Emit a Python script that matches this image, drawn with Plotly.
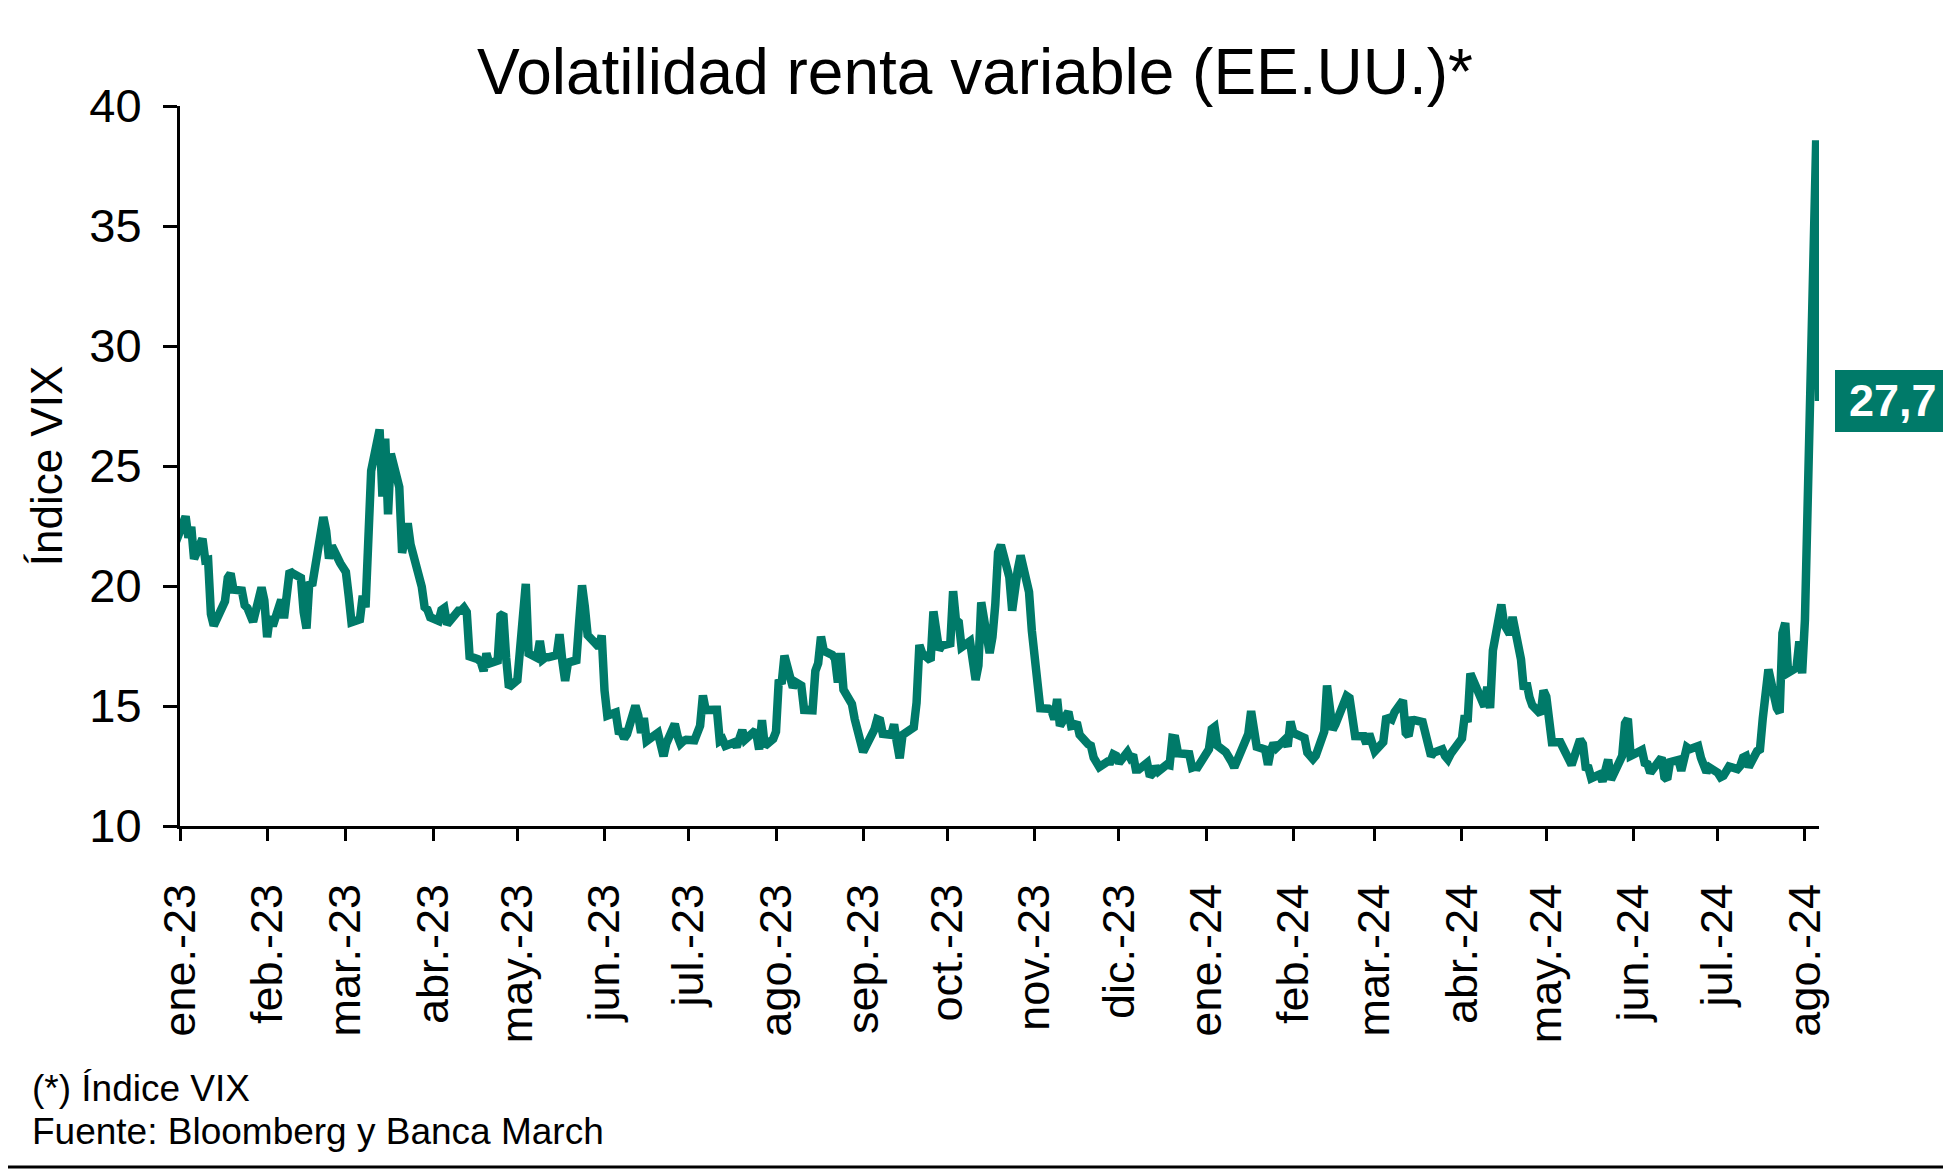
import pandas as pd
import plotly.graph_objects as go

# ---------------- DATA ----------------
holidays = ["2023-01-02", "2023-01-16", "2023-02-20", "2023-04-07", "2023-05-29",
            "2023-06-19", "2023-07-04", "2023-09-04", "2023-11-23", "2023-12-25",
            "2024-01-01", "2024-01-15", "2024-02-19", "2024-03-29", "2024-05-27",
            "2024-06-19", "2024-07-04"]

start_date = "2022-12-30"
start_value = 21.67

vix_2023_01 = [22.90, 22.01, 22.46, 21.13, 21.97, 21.07, 21.09, 18.83, 18.35, 19.36,
               20.34, 20.52, 19.85, 19.81, 19.20, 19.08, 18.73, 18.51, 19.94, 19.40]
vix_2023_02 = [17.87, 18.73, 18.33, 19.43, 18.66, 19.63, 20.63, 20.53, 20.34, 18.91,
               18.23, 20.17, 20.02, 22.87, 22.29, 21.14, 21.67, 20.95, 20.70]
vix_2023_03 = [20.58, 19.59, 18.49, 18.61, 19.59, 19.11, 22.61, 24.80, 26.52, 23.73,
               26.14, 22.99, 25.51, 24.12, 21.38, 22.26, 22.61, 21.74, 20.60, 19.97,
               19.12, 19.02, 18.70]
vix_2023_04 = [18.55, 19.00, 19.08, 18.40, 18.97, 18.97, 19.09, 18.91, 17.07, 16.95,
               16.83, 16.46, 17.19, 16.77, 16.89, 18.76, 18.84, 17.03, 15.78]
vix_2023_05 = [16.08, 17.78, 18.34, 20.09, 17.19, 17.01, 17.71, 16.94, 17.03, 17.03,
               17.12, 17.99, 16.87, 16.05, 16.81, 16.91, 18.53, 20.03, 19.14, 17.95,
               17.46, 17.94]
vix_2023_06 = [15.65, 14.60, 14.73, 13.96, 13.94, 13.65, 13.83, 15.01, 14.61, 13.88,
               14.50, 13.54, 13.88, 13.20, 12.91, 13.44, 14.25, 13.74, 13.43, 13.54,
               13.59]
vix_2023_07 = [13.57, 14.18, 15.44, 14.83, 14.84, 14.84, 13.54, 13.61, 13.34, 13.48,
               13.30, 13.76, 13.99, 13.60, 13.91, 13.86, 13.19, 14.41, 13.33, 13.63]
vix_2023_08 = [13.93, 16.09, 15.92, 17.10, 15.77, 15.99, 15.96, 15.85, 14.84, 14.82,
               16.46, 16.78, 17.89, 17.30, 17.13, 16.97, 15.98, 17.20, 15.68, 15.08,
               14.45, 13.88, 13.57]
vix_2023_09 = [13.09, 14.02, 14.45, 14.40, 13.84, 13.80, 14.23, 13.48, 12.82, 13.79,
               14.00, 14.11, 15.14, 17.54, 17.20, 16.90, 18.94, 18.22, 17.34, 17.52]
vix_2023_10 = [17.61, 19.78, 18.58, 18.49, 17.45, 17.70, 17.03, 16.09, 16.69, 19.32,
               17.21, 17.88, 19.22, 21.40, 21.71, 20.37, 18.97, 20.19, 20.68, 21.27,
               19.75, 18.14]
vix_2023_11 = [16.87, 15.66, 14.91, 14.89, 14.81, 14.45, 15.29, 14.17, 14.76, 14.16,
               14.18, 14.32, 13.80, 13.41, 13.35, 12.85, 12.46, 12.69, 12.69, 12.98,
               12.92]
vix_2023_12 = [12.63, 13.08, 12.85, 12.97, 12.35, 12.35, 12.63, 12.07, 12.19, 12.48,
               12.28, 12.56, 12.53, 13.67, 13.65, 13.03, 12.99, 12.43, 12.47, 12.45]
vix_2024_01 = [13.20, 14.04, 14.13, 13.35, 13.08, 12.76, 12.69, 12.44, 12.70, 13.84,
               14.79, 14.13, 13.30, 13.19, 12.55, 13.14, 13.45, 13.26, 13.60, 13.31,
               14.35]
vix_2024_02 = [13.88, 13.85, 13.67, 13.06, 12.83, 12.79, 12.93, 13.93, 15.85, 14.38,
               14.01, 14.24, 15.42, 15.34, 14.54, 13.75, 13.74, 13.43, 13.84, 13.40]
vix_2024_03 = [13.11, 13.49, 14.46, 14.50, 14.44, 14.74, 15.23, 13.88, 13.75, 14.40,
               14.41, 14.33, 13.82, 13.04, 12.92, 13.06, 13.19, 12.92, 12.78, 13.01]
vix_2024_04 = [13.65, 14.61, 14.33, 16.35, 16.03, 15.19, 14.98, 15.80, 14.91, 17.31,
               19.23, 18.40, 18.21, 18.00, 18.71, 16.94, 15.69, 15.97, 15.37, 15.03,
               14.67, 15.65]
vix_2024_05 = [15.39, 14.68, 13.49, 13.49, 13.23, 13.00, 12.69, 12.55, 13.60, 13.42,
               12.45, 12.42, 11.99, 12.15, 11.86, 12.29, 12.77, 11.93, 12.92, 14.28,
               14.47, 12.92]
vix_2024_06 = [13.11, 13.16, 12.63, 12.58, 12.22, 12.74, 12.85, 12.04, 11.94, 12.66,
               12.75, 12.30, 13.28, 13.20, 13.33, 12.84, 12.55, 12.24, 12.44]
vix_2024_07 = [12.22, 12.03, 12.09, 12.48, 12.37, 12.51, 12.85, 12.91, 12.46, 13.12,
               13.19, 14.48, 15.93, 16.52, 14.91, 14.72, 18.04, 18.46, 16.39, 16.60,
               17.69, 16.36]
vix_2024_08 = [18.59, 23.39, 38.57, 27.71]

months = ["2023-01", "2023-02", "2023-03", "2023-04", "2023-05", "2023-06",
          "2023-07", "2023-08", "2023-09", "2023-10", "2023-11", "2023-12",
          "2024-01", "2024-02", "2024-03", "2024-04", "2024-05", "2024-06",
          "2024-07", "2024-08"]
monthly_values = [vix_2023_01, vix_2023_02, vix_2023_03, vix_2023_04, vix_2023_05,
                  vix_2023_06, vix_2023_07, vix_2023_08, vix_2023_09, vix_2023_10,
                  vix_2023_11, vix_2023_12, vix_2024_01, vix_2024_02, vix_2024_03,
                  vix_2024_04, vix_2024_05, vix_2024_06, vix_2024_07, vix_2024_08]

tick_labels = ["ene.-23", "feb.-23", "mar.-23", "abr.-23", "may.-23", "jun.-23",
               "jul.-23", "ago.-23", "sep.-23", "oct.-23", "nov.-23", "dic.-23",
               "ene.-24", "feb.-24", "mar.-24", "abr.-24", "may.-24", "jun.-24",
               "jul.-24", "ago.-24"]
last_label = "27,7"

# ---------------- BUILD SERIES ----------------
dates = [pd.Timestamp(start_date)]
values = [start_value]
for m, vals in zip(months, monthly_values):
    p = pd.Period(m, freq="M")
    days = pd.bdate_range(p.start_time.normalize(), p.end_time.normalize(),
                          freq="C", holidays=holidays)
    n = min(len(days), len(vals))
    dates.extend(days[:n])
    values.extend(vals[:n])

tick_vals = [pd.Period(m, freq="M").start_time for m in months]

GREEN = "#007A69"
FONT = "Liberation Sans, Arial, sans-serif"

# page offset of the plot div (body margin 8px)
L, R, T, B = 172, 140, 98, 352
PW, PH = 1951 - L - R, 1170 - T - B
Y_MIN, Y_MAX = 10, 40
px_per_unit = PH / (Y_MAX - Y_MIN)

fig = go.Figure()
fig.add_trace(go.Scatter(x=dates, y=values, mode="lines",
                         line=dict(color=GREEN, width=8.5),
                         hoverinfo="skip", showlegend=False))

fig.update_layout(
    width=1951, height=1170,
    paper_bgcolor="white", plot_bgcolor="white",
    margin=dict(l=L, r=R, t=T, b=B, autoexpand=False),
    font=dict(family=FONT, color="black", size=44),
    title=dict(text="Volatilidad renta variable (EE.UU.)*",
               x=967 / 1951, xref="container", xanchor="center",
               y=1 - 64 / 1170, yref="container", yanchor="middle",
               font=dict(size=64, family=FONT, color="black")),
    showlegend=False,
)

fig.update_xaxes(
    type="date",
    range=["2023-01-01", "2024-08-06"],
    tickmode="array", tickvals=tick_vals, ticktext=tick_labels,
    tickangle=-90,
    ticks="outside", ticklen=12, tickwidth=2.5, tickcolor="black",
    showline=True, linecolor="black", linewidth=3,
    showgrid=False, zeroline=False,
    tickfont=dict(size=45, family=FONT, color="black"),
    ticklabelstandoff=25,
)
fig.update_yaxes(
    range=[Y_MIN, Y_MAX], tickmode="array", tickvals=[10, 15, 20, 25, 30, 35, 40],
    ticks="outside", ticklen=14, tickwidth=2.5, tickcolor="black",
    showline=True, linecolor="black", linewidth=3,
    showgrid=False, zeroline=False,
    tickfont=dict(size=47, family=FONT, color="black"),
    ticklabelstandoff=12,
    title=dict(text="Índice VIX", font=dict(size=44, family=FONT, color="black"),
               standoff=13),
)

# Label box for the last value
half_h = 31 / px_per_unit
fig.add_shape(type="rect", xref="paper", yref="y",
              x0=1 + 16 / PW, x1=1 + R / PW,
              y0=values[-1] - half_h, y1=values[-1] + half_h,
              fillcolor=GREEN, line=dict(width=0), layer="above")
fig.add_annotation(x=1 + 74 / PW, xref="paper", xanchor="center",
                   y=values[-1], yref="y", yanchor="middle",
                   text="<b>" + last_label + "</b>", showarrow=False,
                   font=dict(color="white", size=45, family=FONT))

# Footnotes
fig.add_annotation(x=-150 / PW, xref="paper", xanchor="left",
                   y=(826 - 1088) / PH, yref="paper", yanchor="middle",
                   text="(*) Índice VIX", showarrow=False,
                   font=dict(size=37, family=FONT, color="black"))
fig.add_annotation(x=-150 / PW, xref="paper", xanchor="left",
                   y=(826 - 1131) / PH, yref="paper", yanchor="middle",
                   text="Fuente: Bloomberg y Banca March", showarrow=False,
                   font=dict(size=37, family=FONT, color="black"))

# Bottom border line
fig.add_shape(type="line", xref="paper", yref="paper",
              x0=-L / PW, x1=1 + R / PW,
              y0=(826 - 1167) / PH, y1=(826 - 1167) / PH,
              line=dict(color="black", width=3))

fig.write_html(
    "out.html",
    post_script="document.documentElement.style.overflow='hidden';"
                "document.body.style.overflow='hidden';",
)
